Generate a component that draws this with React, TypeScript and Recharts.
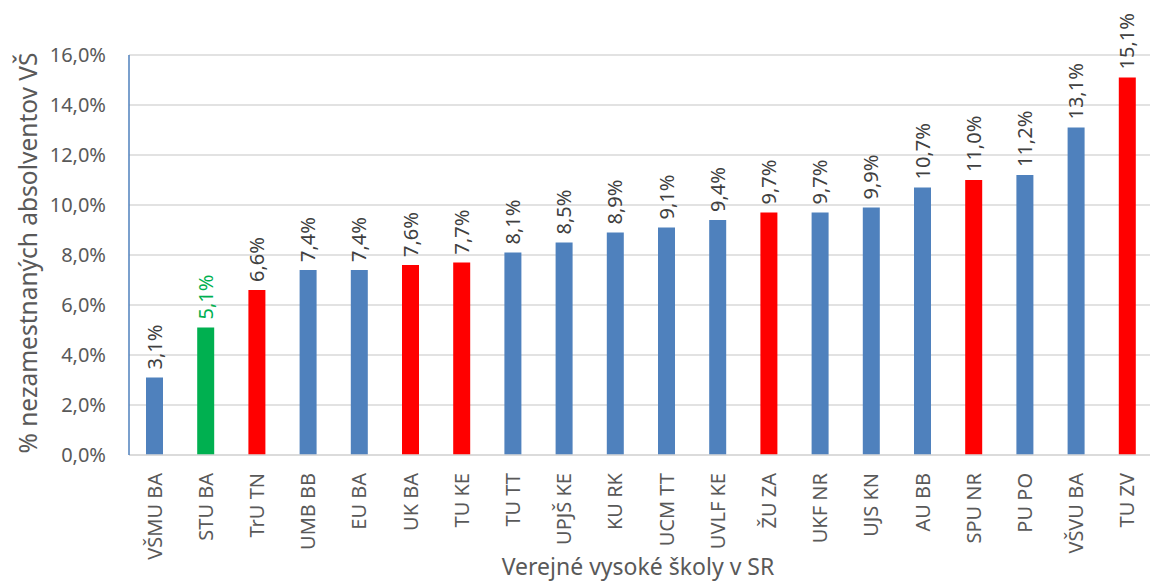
import React from 'react';
import { BarChart, Bar, Cell, XAxis, YAxis, CartesianGrid, LabelList, Label } from 'recharts';

// Verejné vysoké školy – podiel nezamestnaných absolventov
const schools = [
  'VŠMU BA', 'STU BA', 'TrU TN', 'UMB BB', 'EU BA', 'UK BA', 'TU KE', 'TU TT', 'UPJŠ KE', 'KU RK',
  'UCM TT', 'UVLF KE', 'ŽU ZA', 'UKF NR', 'UJS KN', 'AU BB', 'SPU NR', 'PU PO', 'VŠVU BA', 'TU ZV',
];
const unemployed = [
  3.1, 5.1, 6.6, 7.4, 7.4, 7.6, 7.7, 8.1, 8.5, 8.9,
  9.1, 9.4, 9.7, 9.7, 9.9, 10.7, 11.0, 11.2, 13.1, 15.1,
];
// b = modrá, g = zelená (STU), r = červená
const groups = ['b', 'g', 'r', 'b', 'b', 'r', 'r', 'b', 'b', 'b', 'b', 'b', 'r', 'b', 'b', 'b', 'r', 'b', 'b', 'r'];
const yTicks = [0, 2, 4, 6, 8, 10, 12, 14, 16];

const FONT = '"Noto Sans", sans-serif';
const BAR_COLORS: Record<string, string> = { b: '#4f81bd', g: '#00b050', r: '#ff0000' };

const data = schools.map((name, i) => ({ name, value: unemployed[i], group: groups[i] }));

const fmt = (v: number) => v.toFixed(1).replace('.', ',') + '%';

function XTick(props: any) {
  const { x, y, payload } = props;
  const ty = y + 18;
  return (
    <text
      x={x}
      y={ty}
      dy="0.35em"
      textAnchor="end"
      transform={`rotate(-90, ${x}, ${ty})`}
      fill="#595959"
      fontSize={20}
      fontFamily={FONT}
    >
      {payload.value}
    </text>
  );
}

function ValueLabel(props: any) {
  const { x, y, width, value, index } = props;
  const cx = x + width / 2;
  const ty = y - 8;
  return (
    <text
      x={cx}
      y={ty}
      dy="0.35em"
      textAnchor="start"
      transform={`rotate(-90, ${cx}, ${ty})`}
      fill={groups[index] === 'g' ? '#00b050' : '#404040'}
      fontSize={20}
      fontFamily={FONT}
    >
      {fmt(value)}
    </text>
  );
}

export default function App() {
  return (
    <div style={{ position: 'absolute', left: 0, top: 0, width: 1150, height: 581, overflow: 'hidden', background: '#fff' }}>
      <BarChart width={1160} height={581} data={data} margin={{ top: 55, right: 7, bottom: 0, left: 0 }}>
        <CartesianGrid vertical={false} stroke="#d9d9d9" strokeWidth={1.5} />
        <XAxis
          dataKey="name"
          height={126}
          interval={0}
          tickLine={false}
          tickSize={0}
          tickMargin={0}
          stroke="#d9d9d9"
          strokeWidth={1.5}
          tick={<XTick />}
        >
          <Label
            content={(p: any) => {
              const vb = p.viewBox;
              return (
                <text
                  x={vb.x + vb.width / 2 - 3}
                  y={566}
                  textAnchor="middle"
                  dominantBaseline="central"
                  fill="#595959"
                  fontSize={23}
                  fontFamily={FONT}
                >
                  Verejné vysoké školy v SR
                </text>
              );
            }}
          />
        </XAxis>
        <YAxis
          width={129}
          domain={[0, 16]}
          ticks={yTicks}
          interval={0}
          tickLine={false}
          tickSize={0}
          tickMargin={23}
          tickFormatter={fmt}
          stroke="#4f81bd"
          strokeWidth={1.5}
          tick={{ fill: '#595959', fontSize: 20, fontFamily: FONT }}
        >
          <Label
            content={() => (
              <text
                x={27}
                y={253}
                textAnchor="middle"
                dominantBaseline="central"
                transform="rotate(-90, 27, 253)"
                fill="#595959"
                fontSize={24.5}
                fontFamily={FONT}
              >
                % nezamestnaných absolventov VŠ
              </text>
            )}
          />
        </YAxis>
        <Bar dataKey="value" barSize={17} isAnimationActive={false}>
          {data.map((d) => (
            <Cell key={d.name} fill={BAR_COLORS[d.group]} />
          ))}
          <LabelList dataKey="value" content={<ValueLabel />} />
        </Bar>
      </BarChart>
    </div>
  );
}
